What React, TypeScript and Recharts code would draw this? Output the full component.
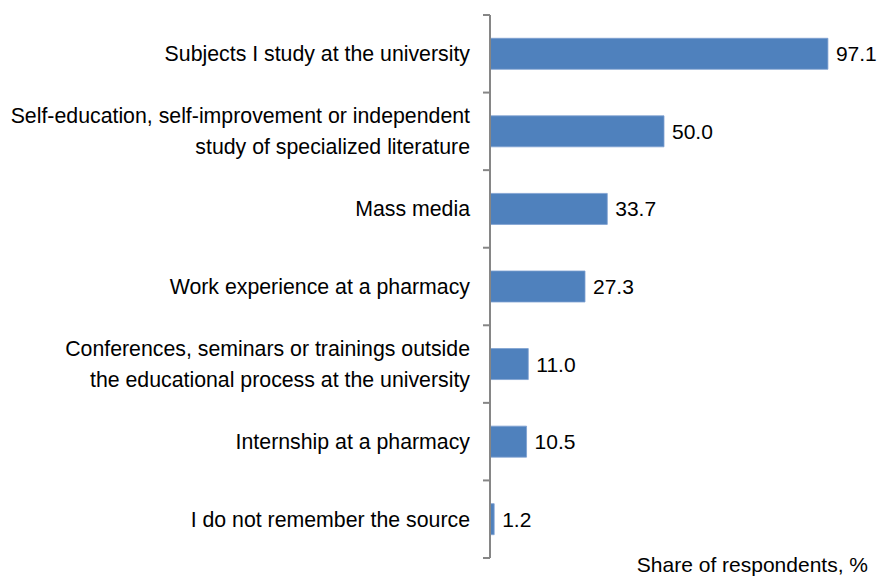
import * as React from "react"
import { BarChart, Bar, XAxis, YAxis, LabelList } from "recharts"

const categories = [
  ["Subjects I study at the university"],
  ["Self-education, self-improvement or independent", "study of specialized literature"],
  ["Mass media"],
  ["Work experience at a pharmacy"],
  ["Conferences, seminars or trainings outside", "the educational process at the university"],
  ["Internship at a pharmacy"],
  ["I do not remember the source"],
]

const shares = [97.1, 50.0, 33.7, 27.3, 11.0, 10.5, 1.2]

const data = categories.map((lines, i) => ({
  name: lines.join("\n"),
  value: shares[i],
}))

const FONT = "'Liberation Sans', Arial, sans-serif"
const FONT_SIZE = 21
const AXIS_COLOR = "#868686"

function CategoryTick(props: any) {
  const { x, y, payload, index } = props
  const lines: string[] = String(payload.value).split("\n")
  const half = payload.offset || 0
  const lineGap = 31
  const startY = y - ((lines.length - 1) * lineGap) / 2
  const last = index === categories.length - 1
  return (
    <g>
      <line x1={x + 13} x2={x + 20} y1={y - half} y2={y - half} stroke={AXIS_COLOR} strokeWidth={2} />
      {last && (
        <line x1={x + 13} x2={x + 20} y1={y + half} y2={y + half} stroke={AXIS_COLOR} strokeWidth={2} />
      )}
      {lines.map((line, i) => (
        <text
          key={i}
          x={x}
          y={startY + i * lineGap}
          dy="0.35em"
          textAnchor="end"
          fill="#000"
          fontSize={21.3}
          fontFamily={FONT}
        >
          {line}
        </text>
      ))}
    </g>
  )
}

export default function App() {
  return (
    <div style={{ position: "absolute", left: 0, top: 0, background: "#fff" }}>
      <BarChart
        width={895}
        height={576}
        data={data}
        layout="vertical"
        margin={{ top: 15, right: 57, bottom: 0, left: 0 }}
        barCategoryGap="30%"
      >
        <XAxis
          type="number"
          domain={[0, 100]}
          axisLine={false}
          tickLine={false}
          tick={false}
          height={18}
          label={{
            value: "Share of respondents, %",
            position: "insideBottomRight",
            offset: 0,
            dx: 30,
            dy: -4,
            fill: "#000",
            fontSize: FONT_SIZE,
            fontFamily: FONT,
          }}
        />
        <YAxis
          type="category"
          dataKey="name"
          width={490}
          axisLine={{ stroke: AXIS_COLOR, strokeWidth: 2 }}
          tickLine={false}
          tick={<CategoryTick />}
          tickMargin={0}
          tickSize={20}
          interval={0}
        />
        <Bar dataKey="value" fill="#4F81BD" stroke="#7E9FD0" strokeWidth={0.8} isAnimationActive={false}>
          <LabelList
            dataKey="value"
            position="right"
            offset={8}
            fill="#000"
            stroke="none"
            fontSize={FONT_SIZE}
            fontFamily={FONT}
            formatter={(v: any) => Number(v).toFixed(1)}
          />
        </Bar>
      </BarChart>
    </div>
  )
}
